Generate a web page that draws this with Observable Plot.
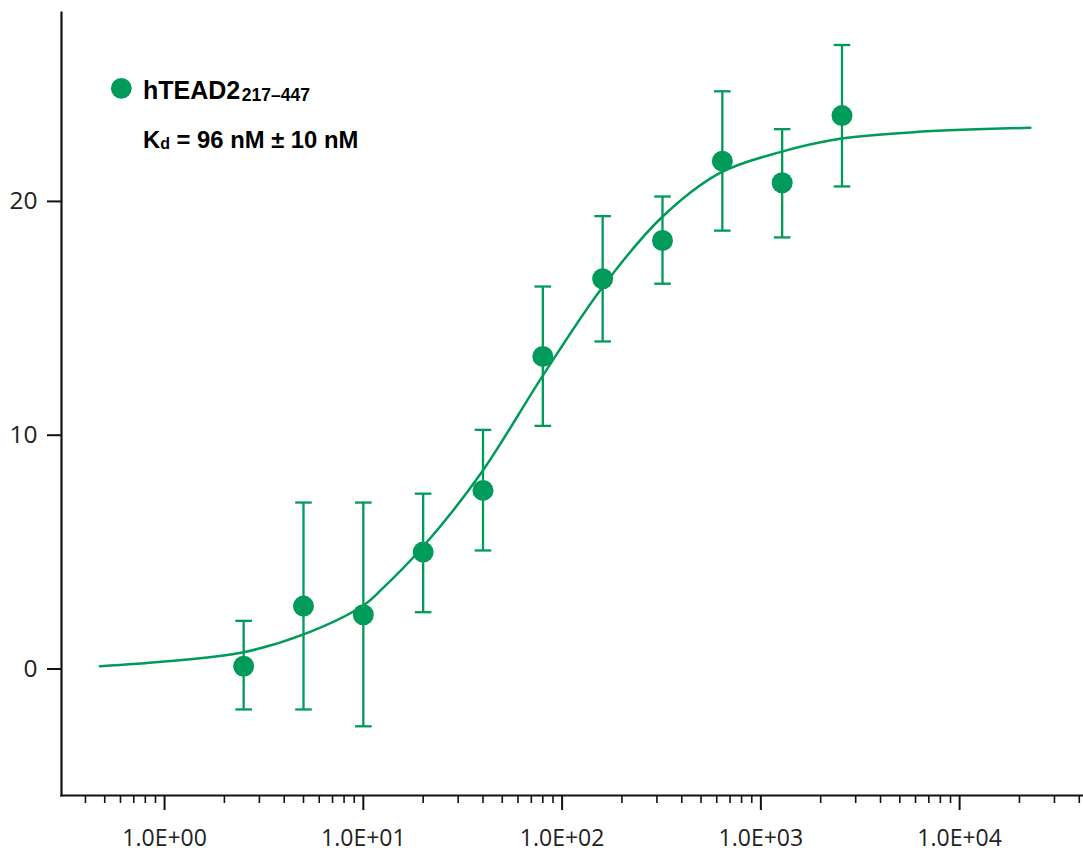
<!DOCTYPE html>
<html>
<head>
<meta charset="utf-8">
<script src="https://cdn.jsdelivr.net/npm/d3@7"></script>
<script src="https://cdn.jsdelivr.net/npm/@observablehq/plot@0.6"></script>
<style>
  html, body { margin: 0; padding: 0; background: #fff; }
  #chart svg { display: block; }
</style>
</head>
<body>
<div id="chart"></div>
<script>
// Measured points (concentration, nM) and signal with error bar ends
const conc   = [2.5, 5, 10, 20, 40, 80, 160, 320, 640, 1280, 2560];
const signal = [0.12, 2.69, 2.32, 5.00, 7.64, 13.37, 16.69, 18.33, 21.72, 20.80, 23.67];
const errLow = [-1.73, -1.73, -2.45, 2.43, 5.07, 10.40, 14.01, 16.48, 18.75, 18.46, 20.64];
const errHigh= [2.06, 7.12, 7.12, 7.50, 10.23, 16.36, 19.37, 20.21, 24.71, 23.09, 26.69];

// Fitted curve
const fitConc   = [0.473, 1.0, 2.5, 5, 10, 12.2, 20, 39, 80, 158, 313, 620, 1250, 2500, 5850, 22700];
const fitSignal = [0.12, 0.32, 0.72, 1.48, 2.72, 3.36, 5.24, 8.36, 12.55, 16.28, 19.27, 21.21, 22.11, 22.68, 22.96, 23.15];

// Tick values and labels
const xTickValues = [1, 10, 100, 1000, 10000];
const xTickLabels = ["1.0E+00", "1.0E+01", "1.0E+02", "1.0E+03", "1.0E+04"];
const yTickValues = [0, 10, 20];

const seriesName = "hTEAD2";
const seriesSub = "217\u2013447";
const kdMain = "K";
const kdSub = "d";
const kdRest = " = 96 nM \u00b1 10 nM";

const green = "#009a5a";

const points = conc.map((c, i) => ({c, v: signal[i], lo: errLow[i], hi: errHigh[i]}));
const fit = fitConc.map((c, i) => ({c, v: fitSignal[i]}));

// minor ticks: 2..9 of each decade in the domain
const xDomain = [0.303, 42000];
const minorTicks = [];
for (let e = -1; e <= 4; e++) {
  for (let m = 2; m <= 9; m++) {
    const t = m * Math.pow(10, e);
    if (t >= xDomain[0] && t <= xDomain[1]) minorTicks.push(t);
  }
}

// horizontal cap symbol for error bars
const capSymbol = {
  draw(context, size) {
    const r = Math.sqrt(size / Math.PI);
    context.moveTo(-r, 0);
    context.lineTo(r, 0);
  }
};

const chart = Plot.plot({
  width: 1083,
  height: 852,
  marginLeft: 61,
  marginRight: 0,
  marginTop: 12,
  marginBottom: 57,
  style: {fontFamily: "'Open Sans', sans-serif", color: "#222", background: "#fff"},
  x: {type: "log", domain: xDomain, label: null},
  y: {domain: [-5.41, 28.08], label: null},
  marks: [
    Plot.axisX(minorTicks, {tickSize: 8, strokeWidth: 1.6, stroke: "#111", tickFormat: () => "", label: null}),
    Plot.axisX(xTickValues, {tickSize: 15, strokeWidth: 2, stroke: "#111", tickPadding: 19, fontSize: 23, label: null,
      tickFormat: d => xTickLabels[xTickValues.indexOf(d)]}),
    Plot.axisY(yTickValues, {tickSize: 14, strokeWidth: 2, stroke: "#111", tickPadding: 10, fontSize: 24.5, label: null,
      tickFormat: d => String(d)}),
    Plot.frame({anchor: "left", stroke: "#111", strokeWidth: 2.2}),
    Plot.frame({anchor: "bottom", stroke: "#111", strokeWidth: 2.2}),
    Plot.ruleX(points, {x: "c", y1: "lo", y2: "hi", stroke: green, strokeWidth: 2.3}),
    Plot.dot(points, {x: "c", y: "lo", symbol: capSymbol, r: 8.3, stroke: green, strokeWidth: 2.3}),
    Plot.dot(points, {x: "c", y: "hi", symbol: capSymbol, r: 8.3, stroke: green, strokeWidth: 2.3}),
    Plot.dot(points, {x: "c", y: "v", r: 10.5, fill: green, stroke: "none"}),
    Plot.line(fit, {x: "c", y: "v", curve: "catmull-rom", stroke: green, strokeWidth: 2.5})
  ]
});

document.getElementById("chart").appendChild(chart);

// Legend / annotation inside the plot area
const svg = d3.select(chart);
const g = svg.append("g")
  .attr("font-family", "'Liberation Sans', Arial, sans-serif")
  .attr("font-weight", "bold")
  .attr("text-anchor", "start")
  .attr("fill", "#000");
g.append("circle").attr("cx", 121.3).attr("cy", 88.3).attr("r", 10.4).attr("fill", green);
const t1 = g.append("text").attr("x", 143).attr("y", 99.3).attr("font-size", 25);
t1.append("tspan").text(seriesName);
t1.append("tspan").attr("font-size", 17.5).attr("dx", 1.5).attr("dy", 1.7).text(seriesSub);
const t2 = g.append("text").attr("x", 143).attr("y", 147.7).attr("font-size", 23.8);
t2.append("tspan").text(kdMain);
t2.append("tspan").attr("font-size", 16).attr("dy", 1.3).text(kdSub);
t2.append("tspan").attr("dy", -1.3).text(kdRest);
</script>
</body>
</html>
